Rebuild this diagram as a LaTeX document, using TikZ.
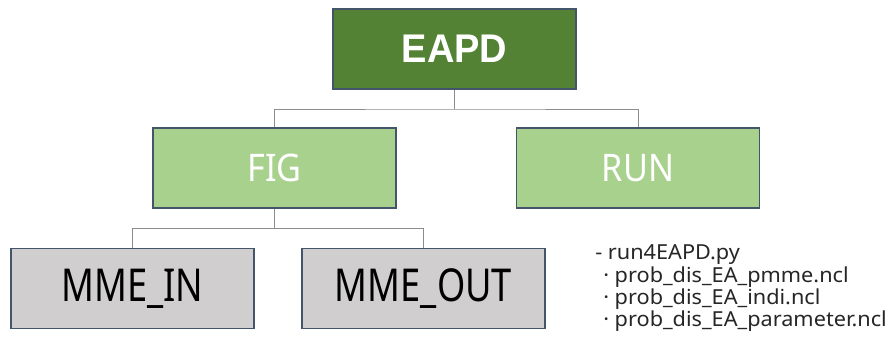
\documentclass[tikz,border=0pt]{standalone}
\usepackage{fontspec}
\setmainfont{Noto Sans}
\newfontfamily\topfont{Liberation Sans}
\usepackage{graphicx}
\definecolor{topfill}{HTML}{548235}
\definecolor{midfill}{HTML}{A9D18E}
\definecolor{lowfill}{HTML}{D0CECE}
\definecolor{boxline}{HTML}{44546A}
\definecolor{conn}{HTML}{8C8C8C}
\definecolor{listtext}{HTML}{262626}
\tikzset{
  box/.style={draw=boxline, line width=1.1pt, minimum width=182pt, minimum height=60pt, inner sep=0pt, anchor=center},
  topbox/.style={box, fill=topfill, text=white, font=\topfont\bfseries\fontsize{30}{30}\selectfont},
  midbox/.style={box, fill=midfill, text=white, font=\fontsize{28.5}{28.5}\selectfont},
  lowbox/.style={box, fill=lowfill, text=black, font=\fontsize{34}{34}\selectfont},
  connector/.style={draw=conn, line width=0.6pt},
  listline/.style={anchor=base west, inner sep=0pt, text=listtext, font=\fontsize{15.5}{18}\selectfont}
}
\begin{document}
\begin{tikzpicture}[x=0.75pt, y=-0.75pt]
\useasboundingbox (0,0) rectangle (896,347);
\node[topbox] (eapd) at (454.5,49) {\scalebox{0.95}[1]{EAPD}};
\node[midbox] (fig) at (274.5,168) {\scalebox{0.9}[1]{FIG}};
\node[midbox] (run) at (638,168) {\scalebox{0.9}[1]{RUN}};
\node[lowbox] (mmein) at (132.5,288.5) {\scalebox{0.8}[1]{MME\_IN}};
\node[lowbox] (mmeout) at (423.5,288.5) {\scalebox{0.8}[1]{MME\_OUT}};
\coordinate (j1) at (454.5,109);
\coordinate (j2) at (274.5,228.5);
\draw[connector] (eapd.south) -- (j1);
\draw[connector] (fig.north) |- (j1) -| (run.north);
\draw[connector] (fig.south) -- (j2);
\draw[connector] (mmein.north) |- (j2) -| (mmeout.north);
\node[listline] (l1) at (595,259) {\scalebox{1.05}[1]{- run4EAPD.py}};
\node[listline] (l2) at (603,282) {\scalebox{1.05}[1]{· prob\_dis\_EA\_pmme.ncl}};
\node[listline] (l3) at (603,304) {\scalebox{1.05}[1]{· prob\_dis\_EA\_indi.ncl}};
\node[listline] (l4) at (603,326) {\scalebox{1.05}[1]{· prob\_dis\_EA\_parameter.ncl}};
\end{tikzpicture}
\end{document}
